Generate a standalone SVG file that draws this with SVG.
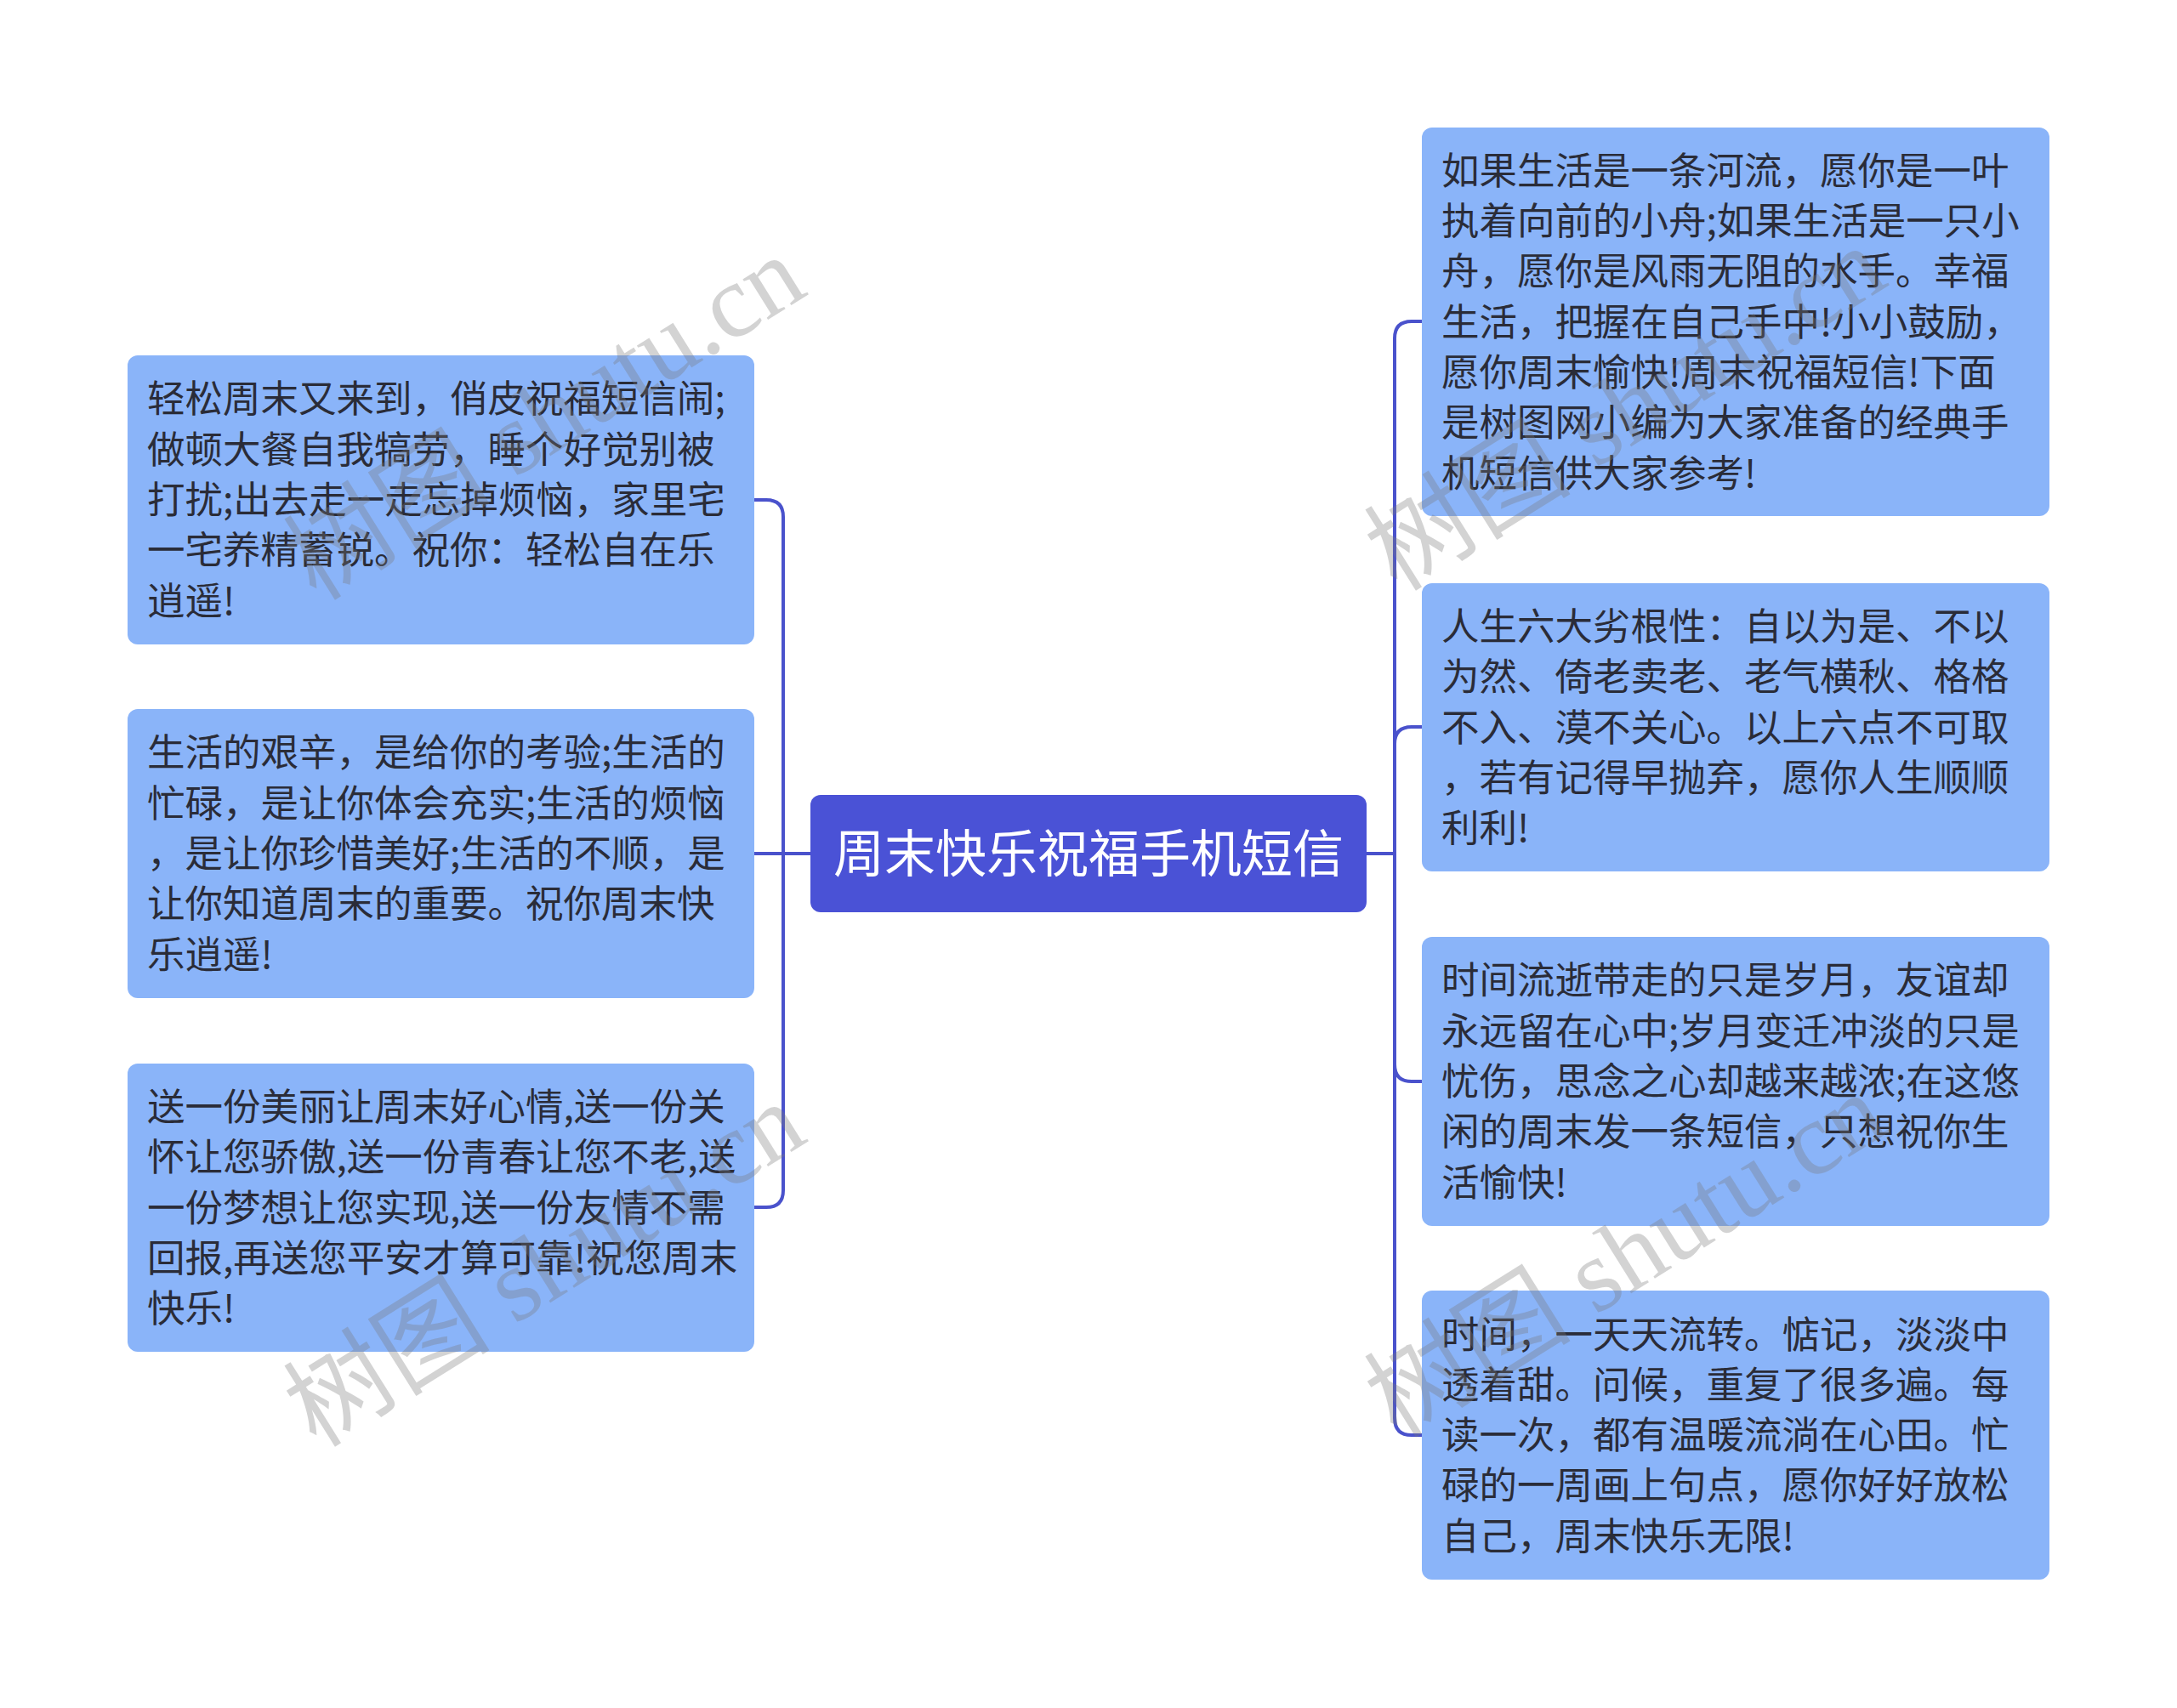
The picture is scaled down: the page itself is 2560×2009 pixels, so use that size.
<svg xmlns="http://www.w3.org/2000/svg" width="2560" height="2009" viewBox="0 0 2560 2009">
<style>
.bg{fill:#ffffff}
.box{fill:#8AB4F9}
.root{fill:#4A52D6}
.t{font-family:"Noto Sans CJK SC","Noto Sans",sans-serif;font-size:44.5px;fill:#2A2C38}
.rt{font-family:"Noto Sans CJK SC","Noto Sans",sans-serif;font-size:60px;fill:#ffffff;text-anchor:middle}
.c{fill:none;stroke:#4A52CC;stroke-width:4}
.wm{font-family:"Liberation Serif","Noto Sans CJK SC",serif;font-size:122px;fill:#7a7a7a;fill-opacity:0.33}
</style>
<rect class="bg" x="0" y="0" width="2560" height="2009"/>
<g id="connectors">
<path class="c" d="M953,1004 H921 V608 Q921,588 901,588 H887"/>
<path class="c" d="M953,1004 H887"/>
<path class="c" d="M953,1004 H921 V1400 Q921,1420 901,1420 H887"/>
<path class="c" d="M1607,1004 H1640 V398 Q1640,378 1660,378 H1672"/>
<path class="c" d="M1607,1004 H1640 V875 Q1640,855 1660,855 H1672"/>
<path class="c" d="M1607,1004 H1640 V1252 Q1640,1272 1660,1272 H1672"/>
<path class="c" d="M1607,1004 H1640 V1668 Q1640,1688 1660,1688 H1672"/>
</g>
<g id="root">
<rect class="root" x="953" y="935" width="654" height="138" rx="12"/>
<text class="rt" x="1280" y="1026">周末快乐祝福手机短信</text>
</g>
<g id="L1">
<rect class="box" x="150" y="418" width="737" height="340" rx="12"/>
<text class="t"><tspan x="173" y="485">轻松周末又来到，俏皮祝福短信闹;</tspan><tspan x="173" y="545">做顿大餐自我犒劳，睡个好觉别被</tspan><tspan x="173" y="604">打扰;出去走一走忘掉烦恼，家里宅</tspan><tspan x="173" y="663">一宅养精蓄锐。祝你：轻松自在乐</tspan><tspan x="173" y="723">逍遥!</tspan></text>
</g>
<g id="L2">
<rect class="box" x="150" y="834" width="737" height="340" rx="12"/>
<text class="t"><tspan x="173" y="901">生活的艰辛，是给你的考验;生活的</tspan><tspan x="173" y="961">忙碌，是让你体会充实;生活的烦恼</tspan><tspan x="173" y="1020">，是让你珍惜美好;生活的不顺，是</tspan><tspan x="173" y="1079">让你知道周末的重要。祝你周末快</tspan><tspan x="173" y="1139">乐逍遥!</tspan></text>
</g>
<g id="L3">
<rect class="box" x="150" y="1251" width="737" height="339" rx="12"/>
<text class="t"><tspan x="173" y="1318">送一份美丽让周末好心情,送一份关</tspan><tspan x="173" y="1377">怀让您骄傲,送一份青春让您不老,送</tspan><tspan x="173" y="1437">一份梦想让您实现,送一份友情不需</tspan><tspan x="173" y="1496">回报,再送您平安才算可靠!祝您周末</tspan><tspan x="173" y="1555">快乐!</tspan></text>
</g>
<g id="R1">
<rect class="box" x="1672" y="150" width="738" height="457" rx="12"/>
<text class="t"><tspan x="1695" y="217">如果生活是一条河流，愿你是一叶</tspan><tspan x="1695" y="276">执着向前的小舟;如果生活是一只小</tspan><tspan x="1695" y="335">舟，愿你是风雨无阻的水手。幸福</tspan><tspan x="1695" y="395">生活，把握在自己手中!小小鼓励，</tspan><tspan x="1695" y="454">愿你周末愉快!周末祝福短信!下面</tspan><tspan x="1695" y="513">是树图网小编为大家准备的经典手</tspan><tspan x="1695" y="573">机短信供大家参考!</tspan></text>
</g>
<g id="R2">
<rect class="box" x="1672" y="686" width="738" height="339" rx="12"/>
<text class="t"><tspan x="1695" y="753">人生六大劣根性：自以为是、不以</tspan><tspan x="1695" y="812">为然、倚老卖老、老气横秋、格格</tspan><tspan x="1695" y="872">不入、漠不关心。以上六点不可取</tspan><tspan x="1695" y="931">，若有记得早抛弃，愿你人生顺顺</tspan><tspan x="1695" y="990">利利!</tspan></text>
</g>
<g id="R3">
<rect class="box" x="1672" y="1102" width="738" height="340" rx="12"/>
<text class="t"><tspan x="1695" y="1169">时间流逝带走的只是岁月，友谊却</tspan><tspan x="1695" y="1229">永远留在心中;岁月变迁冲淡的只是</tspan><tspan x="1695" y="1288">忧伤，思念之心却越来越浓;在这悠</tspan><tspan x="1695" y="1347">闲的周末发一条短信，只想祝你生</tspan><tspan x="1695" y="1407">活愉快!</tspan></text>
</g>
<g id="R4">
<rect class="box" x="1672" y="1518" width="738" height="340" rx="12"/>
<text class="t"><tspan x="1695" y="1586">时间，一天天流转。惦记，淡淡中</tspan><tspan x="1695" y="1645">透着甜。问候，重复了很多遍。每</tspan><tspan x="1695" y="1704">读一次，都有温暖流淌在心田。忙</tspan><tspan x="1695" y="1763">碌的一周画上句点，愿你好好放松</tspan><tspan x="1695" y="1823">自己，周末快乐无限!</tspan></text>
</g>
<g id="watermarks">
<text class="wm" transform="translate(372,708) rotate(-32)">树图 shutu.cn</text>
<text class="wm" transform="translate(372,1704) rotate(-32)">树图 shutu.cn</text>
<text class="wm" transform="translate(1643,697) rotate(-32)">树图 shutu.cn</text>
<text class="wm" transform="translate(1643,1693) rotate(-32)">树图 shutu.cn</text>
</g>
</svg>
